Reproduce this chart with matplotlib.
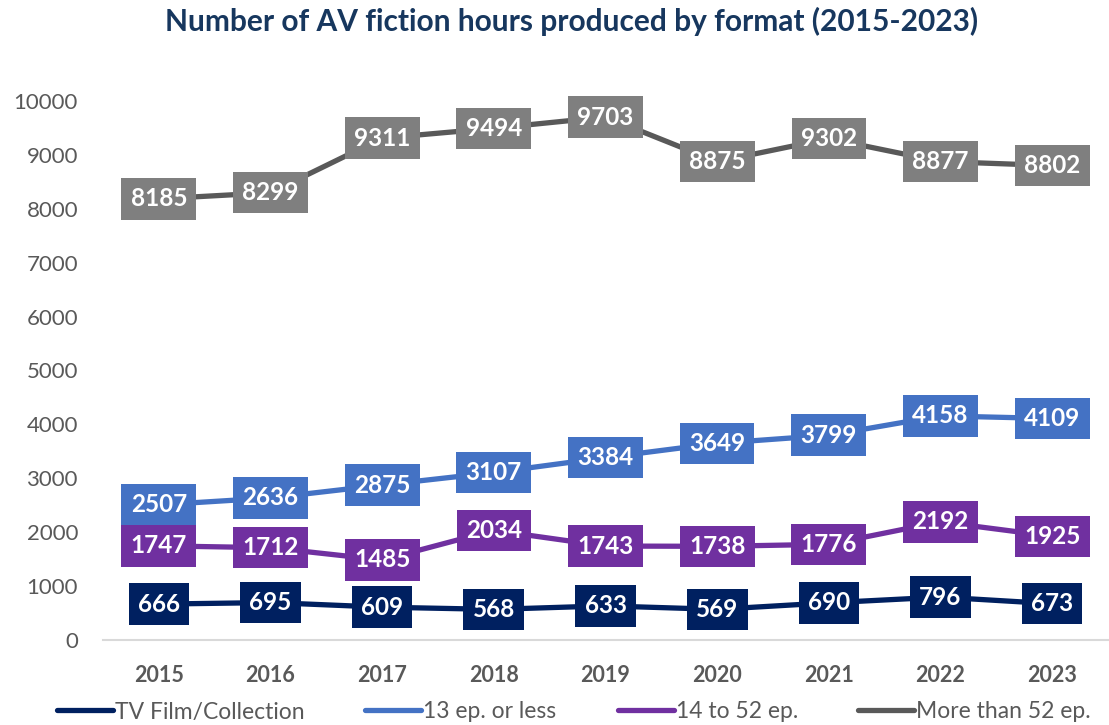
import matplotlib.pyplot as plt

plt.rcParams['font.family'] = ['Lato', 'DejaVu Sans']

years = ["2015", "2016", "2017", "2018", "2019", "2020", "2021", "2022", "2023"]
tv_film = [666, 695, 609, 568, 633, 569, 690, 796, 673]
ep_13_or_less = [2507, 2636, 2875, 3107, 3384, 3649, 3799, 4158, 4109]
ep_14_to_52 = [1747, 1712, 1485, 2034, 1743, 1738, 1776, 2192, 1925]
ep_more_52 = [8185, 8299, 9311, 9494, 9703, 8875, 9302, 8877, 8802]

series = [
    ("TV Film/Collection", tv_film, "#002060", "#002060"),
    ("13 ep. or less", ep_13_or_less, "#4472C4", "#4472C4"),
    ("14 to 52 ep.", ep_14_to_52, "#7030A0", "#7030A0"),
    ("More than 52 ep.", ep_more_52, "#595959", "#7F7F7F"),
]
# left edge of each legend entry, in pixels
legend_x = [57, 365, 618, 858]

fig = plt.figure(figsize=(11.09, 7.25), dpi=100)
ax = fig.add_axes([103 / 1109, 85 / 725, 1005 / 1109, 539 / 725])

x = list(range(len(years)))
lines = []
for name, vals, lc, bc in series:
    ln, = ax.plot(x, vals, color=lc, linewidth=3.8, label=name, solid_capstyle='round')
    lines.append(ln)
    for xi, v in zip(x, vals):
        ax.text(xi, v, str(v), ha='center', va='center', color='white',
                fontsize=17.5, fontweight='bold',
                bbox=dict(boxstyle='square,pad=0.38', facecolor=bc, edgecolor='none'))

ax.set_xlim(-0.5, 8.5)
ax.set_ylim(0, 10000)
ax.set_yticks(range(0, 10001, 1000))
ax.set_xticks(x)
ax.set_xticklabels(years, fontweight='bold')
ax.tick_params(axis='x', length=0, labelsize=15.5, labelcolor='#595959', pad=18)
ax.tick_params(axis='y', length=0, labelsize=16, labelcolor='#595959', pad=18)
for s in ['top', 'right', 'left']:
    ax.spines[s].set_visible(False)
ax.spines['bottom'].set_color('#D9D9D9')
ax.spines['bottom'].set_linewidth(1.5)

fig.suptitle("Number of AV fiction hours produced by format (2015-2023)",
             x=0.515, y=0.99, fontsize=21.5, fontweight='bold', color='#17375E')

for ln, lx in zip(lines, legend_x):
    leg = fig.legend(handles=[ln], loc='center left',
                     bbox_to_anchor=(lx / 1109, 1 - 712 / 725),
                     frameon=False, fontsize=16.5, handlelength=2.45,
                     handletextpad=0.1, borderpad=0, borderaxespad=0)
    for t in leg.get_texts():
        t.set_color('#595959')

fig.savefig("out.png", dpi=100)
